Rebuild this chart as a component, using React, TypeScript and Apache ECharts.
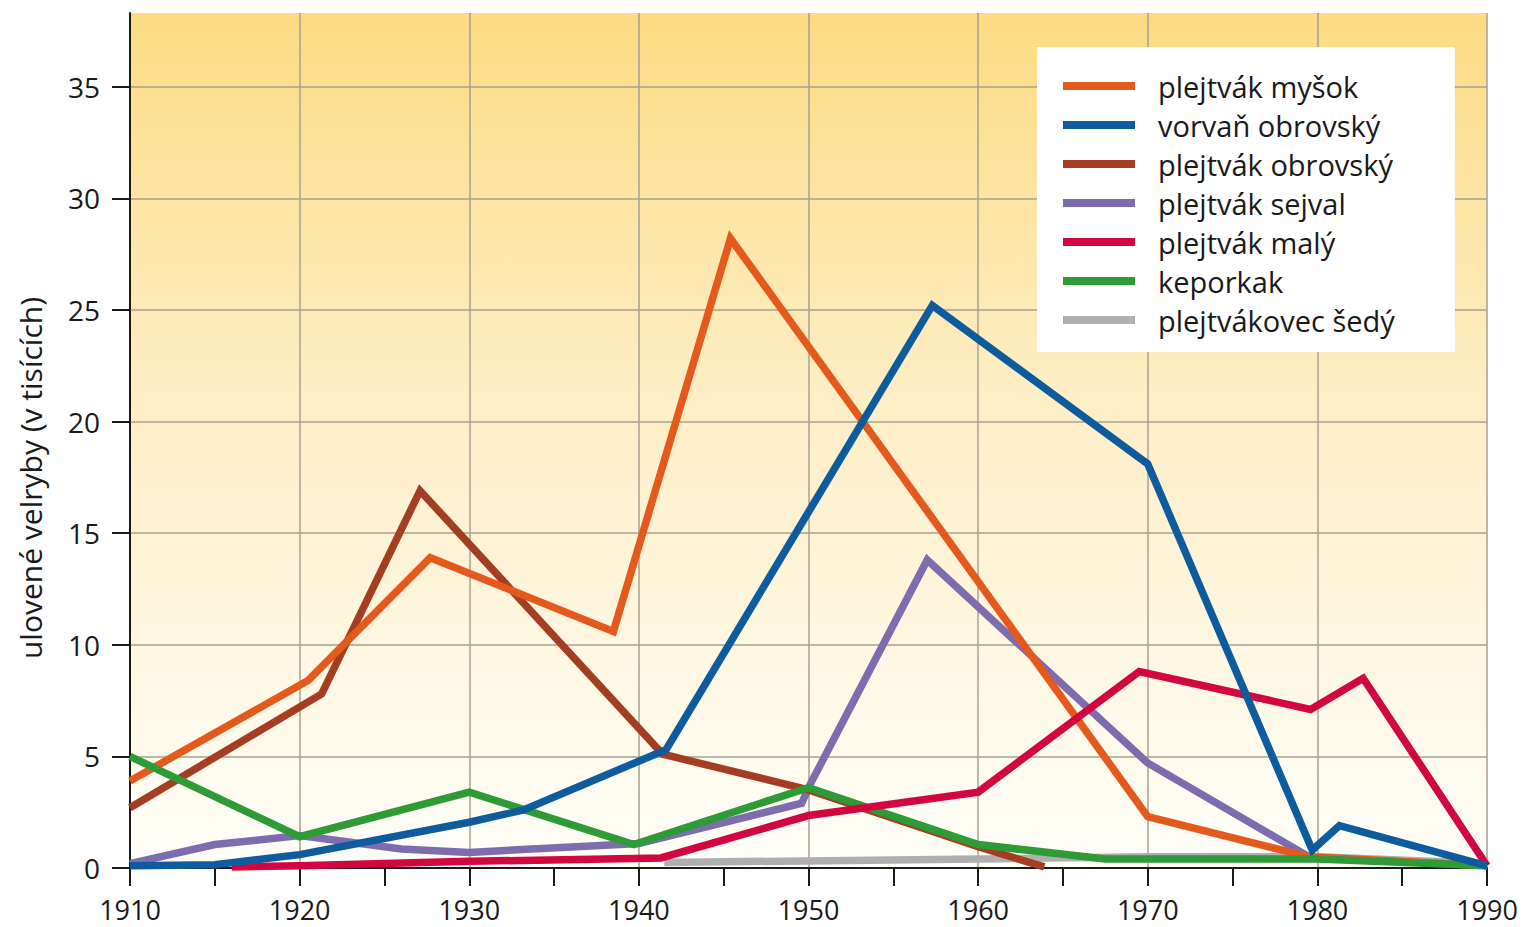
import React, { useEffect, useRef } from "react";
import * as echarts from "echarts";

const seriesNames = [
  "plejtvák myšok",
  "vorvaň obrovský",
  "plejtvák obrovský",
  "plejtvák sejval",
  "plejtvák malý",
  "keporkak",
  "plejtvákovec šedý",
];

const colors = ["#E55A1C", "#0E5C9E", "#A53D22", "#7D6DAF", "#D2073F", "#2F9B36", "#AFAFAF"];

const mysok: [number, number][] = [
  [1910, 3.9], [1920.5, 8.4], [1927.7, 13.9], [1938.5, 10.6], [1945.4, 28.2],
  [1970, 2.3], [1979.5, 0.5], [1990, 0.1],
];
const vorvan: [number, number][] = [
  [1910, 0.1], [1915, 0.15], [1920, 0.6], [1930, 2.05], [1933.2, 2.6], [1941.6, 5.3],
  [1957.3, 25.2], [1970, 18.1], [1979.7, 0.8], [1981.3, 1.9], [1990, 0.1],
];
const obrovsky: [number, number][] = [
  [1910, 2.7], [1921.3, 7.8], [1927.1, 16.9], [1941.4, 5.1], [1950, 3.5],
  [1960, 0.95], [1963.9, 0.05],
];
const sejval: [number, number][] = [
  [1910, 0.2], [1915, 1.05], [1920, 1.45], [1926, 0.85], [1930, 0.7], [1940, 1.1],
  [1949.6, 2.9], [1950, 3.6], [1957.0, 13.8], [1970, 4.7], [1979.5, 0.5],
];
const maly: [number, number][] = [
  [1916, 0.05], [1920, 0.1], [1930, 0.3], [1941.3, 0.45], [1950, 2.35], [1960, 3.4],
  [1969.5, 8.8], [1979.6, 7.1], [1982.7, 8.5], [1990, 0.1],
];
const keporkak: [number, number][] = [
  [1910, 5.0], [1920, 1.4], [1930, 3.4], [1939.7, 1.05], [1950, 3.6], [1960, 1.05],
  [1967.5, 0.4], [1980, 0.4], [1990, 0.1],
];
const sedy: [number, number][] = [
  [1941.5, 0.25], [1960, 0.4], [1970, 0.5], [1980, 0.5], [1990, 0.2],
];

const allData = [mysok, vorvan, obrovsky, sejval, maly, keporkak, sedy];
// draw order (later on top)
const drawOrder = [6, 3, 2, 0, 5, 4, 1];

const yTicks = [0, 5, 10, 15, 20, 25, 30, 35];
const xTicks = [1910, 1920, 1930, 1940, 1950, 1960, 1970, 1980, 1990];
const yAxisTitle = "ulovené velryby (v tisících)";

const FONT = "'Open Sans', 'Noto Sans', sans-serif";

export default function App() {
  const ref = useRef<HTMLDivElement>(null);
  useEffect(() => {
    if (!ref.current) return;
    const chart = echarts.init(ref.current, undefined, { renderer: "svg" });
    const gridColor = "#a9a190";
    chart.setOption({
      animation: false,
      backgroundColor: "#ffffff",
      textStyle: { fontFamily: FONT },
      grid: {
        left: 130,
        right: 36,
        top: 13,
        bottom: 59,
        show: true,
        borderWidth: 0,
        backgroundColor: new echarts.graphic.LinearGradient(0, 0, 0, 1, [
          { offset: 0, color: "#FCDB82" },
          { offset: 0.45, color: "#FEEEC6" },
          { offset: 1, color: "#FFFEF9" },
        ]),
      },
      graphic: [
        {
          type: "text",
          x: 30,
          y: 478,
          rotation: Math.PI / 2,
          style: {
            text: yAxisTitle,
            fontSize: 30,
            fontFamily: FONT,
            fill: "#1a1a1a",
            align: "center",
            verticalAlign: "middle",
            textAlign: "center",
            textVerticalAlign: "middle",
          },
        },
      ],
      legend: {
        orient: "vertical",
        left: 1037,
        top: 47,
        backgroundColor: "#ffffff",
        padding: [24, 60, 17, 26],
        itemWidth: 72,
        itemHeight: 8,
        itemGap: 9,
        icon: "rect",
        data: seriesNames,
        textStyle: {
          fontFamily: FONT,
          fontSize: 29,
          color: "#1a1a1a",
          lineHeight: 30,
          padding: [0, 0, 0, 18],
        },
      },
      xAxis: {
        type: "value",
        min: 1910,
        max: 1990,
        interval: 5,
        axisLine: { show: true, lineStyle: { color: "#1a1a1a", width: 2 } },
        axisTick: { show: true, length: 18, lineStyle: { color: "#1a1a1a", width: 2 } },
        axisLabel: {
          margin: 28,
          fontSize: 27,
          color: "#1a1a1a",
          fontFamily: FONT,
          formatter: (v: number) => (xTicks.includes(v) ? String(v) : ""),
        },
        splitLine: {
          show: true,
          lineStyle: { color: [gridColor, "rgba(0,0,0,0)"], width: 1.5 },
        },
      },
      yAxis: {
        type: "value",
        min: 0,
        max: 38.3,
        interval: 5,
        axisLine: { show: true, lineStyle: { color: "#1a1a1a", width: 2 } },
        axisTick: { show: true, length: 18, lineStyle: { color: "#1a1a1a", width: 2 } },
        axisLabel: {
          margin: 30,
          fontSize: 28,
          color: "#1a1a1a",
          fontFamily: FONT,
          showMaxLabel: false,
          formatter: (v: number) => (yTicks.includes(v) ? String(v) : ""),
        },
        splitLine: {
          show: true,
          showMaxLine: false,
          lineStyle: { color: gridColor, width: 1.5 },
        },
      },
      series: drawOrder.map((i) => ({
        name: seriesNames[i],
        type: "line",
        data: allData[i],
        showSymbol: false,
        symbol: "none",
        color: colors[i],
        lineStyle: { color: colors[i], width: 7.5, join: "miter", cap: "butt" },
        z: 2,
      })),
    });
    return () => chart.dispose();
  }, []);
  return (
    <div
      ref={ref}
      style={{ position: "fixed", left: 0, top: 0, width: 1523, height: 927 }}
    />
  );
}
